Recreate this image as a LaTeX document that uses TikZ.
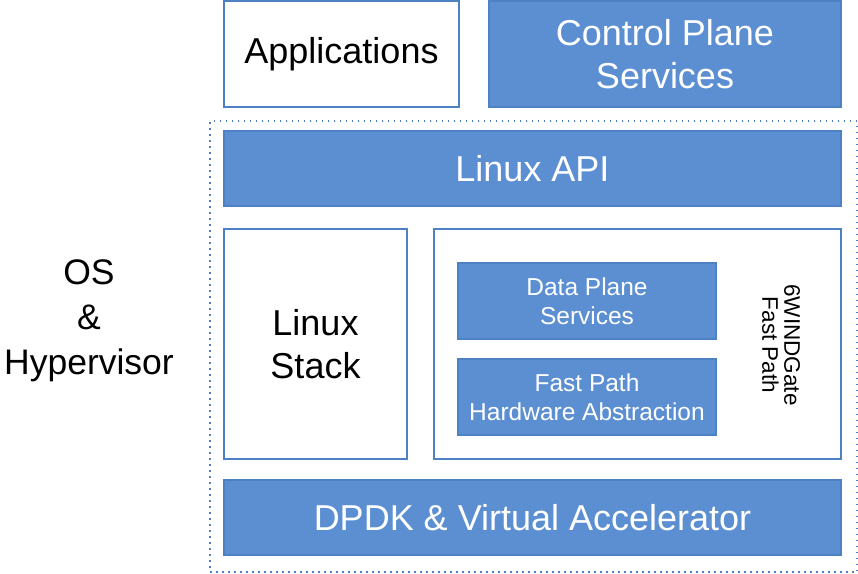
\documentclass[tikz,border=0pt]{standalone}
\usepackage{fontspec}
\setmainfont{Liberation Sans}
\begin{document}
\begin{tikzpicture}[x=1pt,y=-1pt,
  blk/.style={rectangle,inner sep=0pt,outer sep=0pt,line width=1.5pt,align=center},
  bluebox/.style={blk,fill=boxblue,draw=boxedge,text=white},
  whitebox/.style={blk,fill=white,draw=boxedge,text=black},
  bigtxt/.style={font=\fontsize{36}{43}\selectfont},
  smalltxt/.style={font=\fontsize{24.5}{29.5}\selectfont}]
\definecolor{boxblue}{HTML}{5B8FD2}
\definecolor{boxedge}{HTML}{4E80C4}
\definecolor{dotblue}{HTML}{4F7FC0}
\useasboundingbox (0,0) rectangle (858,573);
\fill[white] (0,0) rectangle (858,573);
\node[whitebox,bigtxt,minimum width=235pt,minimum height=106pt] (apps) at (341.5,54) {Applications};
\node[bluebox,bigtxt,minimum width=352pt,minimum height=106pt] (cps) at (665,54) {Control Plane\\Services};
\node[blk,draw=dotblue,line width=1.5pt,dash pattern=on 1.5pt off 4.5pt,minimum width=647pt,minimum height=451pt] (os) at (533.5,346.5) {};
\node[bluebox,bigtxt,minimum width=617pt,minimum height=75pt] (api) at (532.5,168.5) {Linux API};
\node[whitebox,bigtxt,minimum width=183pt,minimum height=230pt] (stack) at (315.5,344) {Linux\\Stack};
\node[whitebox,minimum width=407pt,minimum height=230pt] (fp) at (637.5,344) {};
\node[bluebox,smalltxt,minimum width=258pt,minimum height=76pt] (dps) at (587,301) {Data Plane\\Services};
\node[bluebox,smalltxt,minimum width=258pt,minimum height=76pt] (fpha) at (587,397) {Fast Path\\Hardware Abstraction};
\node[blk,rotate=-90,font=\fontsize{22.5}{22}\selectfont] (fplabel) at (781,345) {6WINDGate\\Fast Path};
\node[bluebox,bigtxt,minimum width=617pt,minimum height=75pt] (dpdk) at (532.5,517.5) {DPDK \& Virtual Accelerator};
\node[blk,font=\fontsize{35.5}{45}\selectfont] (ostxt) at (89,321) {OS\\\&\\Hypervisor};
\end{tikzpicture}
\end{document}
